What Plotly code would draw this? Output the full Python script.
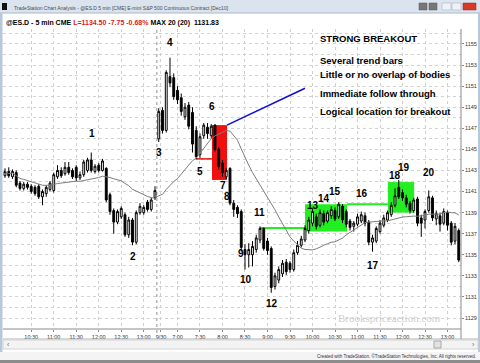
import plotly.graph_objects as go
import pandas as pd

# ---------------- data (5-min bars, two sessions) ----------------
opens = [
    1142.5, 1142.9, 1142.4, 1142.8, 1141.8, 1141.3, 1141.7, 1141.5, 1141.4, 1141.5,
    1140.5, 1140.8, 1141.2, 1141.1, 1142.4, 1143.0, 1142.7, 1143.3, 1143.0, 1143.3,
    1142.3, 1142.6, 1143.0, 1144.0, 1142.9, 1143.5, 1143.0, 1143.2, 1140.7, 1139.2,
    1138.1, 1138.6, 1138.8, 1136.9, 1138.3, 1136.2, 1139.0, 1139.0, 1140.0, 1139.3,
    1140.4,
    1146.0, 1148.7, 1146.8, 1151.9, 1151.8, 1150.6, 1149.9, 1148.1, 1149.2, 1148.5,
    1146.8, 1144.5, 1146.3, 1147.1, 1146.3, 1147.3, 1145.0, 1143.7, 1142.4, 1143.2,
    1139.9, 1139.5, 1139.1, 1135.5, 1135.0, 1135.0, 1135.5, 1136.4, 1137.5, 1136.3,
    1135.6, 1132.0, 1132.6, 1133.2, 1134.3, 1134.2, 1133.6, 1135.2, 1135.9, 1136.4,
    1137.3, 1138.0, 1138.6, 1137.8, 1138.9, 1138.2, 1138.7, 1139.2, 1138.6, 1139.6,
    1139.1, 1138.2, 1137.7, 1137.9, 1138.2, 1138.7, 1138.1, 1136.2, 1136.3, 1137.2,
    1137.8, 1138.3, 1138.8, 1139.7, 1141.4, 1140.9, 1140.4, 1139.9, 1139.2, 1140.3,
    1138.5, 1138.3, 1139.2, 1140.4, 1138.4, 1138.7, 1138.0, 1139.0, 1138.0, 1136.3,
    1137.3,
]
highs = [
    1143.2, 1143.3, 1143.1, 1143.0, 1142.0, 1141.9, 1141.9, 1141.7, 1141.6, 1141.7,
    1141.2, 1141.6, 1142.0, 1142.8, 1143.5, 1143.3, 1143.8, 1143.8, 1143.2, 1143.5,
    1142.9, 1144.0, 1144.2, 1144.7, 1143.6, 1143.7, 1144.1, 1143.3, 1140.9, 1139.4,
    1139.3, 1139.6, 1139.0, 1138.6, 1138.5, 1139.2, 1139.9, 1139.7, 1140.2, 1140.4,
    1141.5,
    1148.9, 1149.0, 1152.5, 1153.7, 1152.2, 1151.0, 1150.3, 1149.4, 1149.5, 1149.0,
    1147.2, 1146.5, 1147.5, 1147.5, 1147.4, 1147.4, 1145.2, 1144.0, 1143.2, 1143.3,
    1140.2, 1139.7, 1139.3, 1136.0, 1136.1, 1136.3, 1136.9, 1137.7, 1137.6, 1136.6,
    1135.8, 1133.3, 1133.9, 1134.5, 1134.6, 1134.4, 1135.5, 1136.3, 1136.8, 1137.8,
    1138.6, 1139.4, 1138.9, 1139.3, 1139.2, 1139.2, 1139.6, 1139.5, 1140.0, 1139.8,
    1139.3, 1138.4, 1138.2, 1138.9, 1139.1, 1139.0, 1138.3, 1136.9, 1137.7, 1138.3,
    1138.8, 1139.2, 1140.0, 1141.3, 1142.1, 1141.2, 1140.7, 1140.1, 1140.4, 1140.5,
    1138.8, 1139.3, 1141.1, 1140.6, 1139.2, 1139.0, 1139.4, 1139.2, 1138.2, 1138.0,
    1137.5,
]
lows = [
    1142.3, 1142.3, 1142.2, 1141.4, 1141.1, 1141.1, 1141.2, 1140.8, 1140.6, 1140.3,
    1139.7, 1140.5, 1141.0, 1140.9, 1142.2, 1142.3, 1142.5, 1142.6, 1142.2, 1142.0,
    1142.1, 1142.4, 1142.8, 1142.8, 1142.7, 1142.8, 1142.9, 1140.0, 1138.8, 1137.0,
    1137.9, 1138.4, 1136.7, 1136.6, 1135.9, 1136.0, 1138.8, 1138.8, 1139.1, 1139.1,
    1140.2,
    1145.7, 1146.5, 1146.6, 1150.9, 1149.7, 1149.3, 1148.2, 1147.8, 1146.9, 1144.7,
    1144.1, 1144.2, 1146.0, 1146.0, 1146.0, 1144.8, 1143.1, 1142.4, 1142.2, 1139.7,
    1138.6, 1138.5, 1135.3, 1133.6, 1133.8, 1133.9, 1135.2, 1136.1, 1135.4, 1135.0,
    1131.4, 1131.7, 1132.3, 1132.9, 1133.1, 1133.3, 1133.4, 1135.0, 1135.7, 1136.2,
    1137.0, 1137.7, 1137.4, 1137.6, 1137.8, 1138.0, 1138.4, 1138.2, 1138.4, 1138.0,
    1137.6, 1137.3, 1137.2, 1137.7, 1138.0, 1137.7, 1135.9, 1135.3, 1136.1, 1137.0,
    1137.6, 1138.1, 1138.6, 1139.5, 1140.3, 1140.1, 1139.5, 1138.9, 1139.0, 1137.7,
    1136.7, 1137.5, 1139.0, 1138.2, 1137.8, 1137.2, 1137.8, 1137.3, 1135.9, 1136.0,
    1134.3,
]
closes = [
    1142.9, 1142.5, 1142.9, 1141.6, 1141.3, 1141.7, 1141.4, 1141.0, 1140.8, 1140.5,
    1141.0, 1141.4, 1141.8, 1142.6, 1143.0, 1142.5, 1143.3, 1142.8, 1142.4, 1142.3,
    1142.6, 1143.8, 1144.0, 1143.0, 1143.4, 1143.0, 1143.9, 1140.2, 1139.1, 1138.1,
    1139.1, 1139.4, 1136.9, 1138.3, 1136.2, 1139.0, 1139.6, 1139.5, 1139.3, 1140.2,
    1141.1,
    1148.6, 1146.8, 1152.3, 1151.3, 1150.0, 1149.7, 1148.6, 1149.0, 1147.2, 1145.5,
    1144.3, 1146.2, 1147.3, 1146.5, 1147.2, 1145.0, 1143.4, 1142.8, 1143.0, 1139.9,
    1139.3, 1138.9, 1135.7, 1135.0, 1135.5, 1135.8, 1136.6, 1137.5, 1135.6, 1135.4,
    1131.9, 1133.0, 1133.6, 1134.2, 1133.4, 1133.6, 1135.2, 1135.9, 1136.5, 1137.5,
    1138.3, 1139.1, 1137.7, 1139.0, 1138.1, 1139.0, 1139.3, 1138.4, 1139.8, 1138.3,
    1137.9, 1137.6, 1138.0, 1138.6, 1138.8, 1138.0, 1136.2, 1136.6, 1137.5, 1138.0,
    1138.5, 1139.0, 1139.7, 1140.6, 1140.5, 1140.4, 1139.8, 1139.2, 1140.2, 1138.0,
    1138.0, 1139.1, 1140.5, 1138.5, 1138.9, 1137.9, 1139.1, 1137.8, 1136.2, 1137.7,
    1134.5,
]
bar_index = list(range(len(closes)))
day1_last, day2_first = 40, 41

tick_index = [7, 13, 19, 25, 31, 37, 41.6, 46, 52, 58, 64, 70, 76, 82, 88, 94, 100, 106, 112, 118]
tick_labels = ["10:30", "11:00", "11:30", "12:00", "12:30", "13:00", "9/30", "7:00", "7:30",
               "8:00", "8:30", "9:00", "9:30", "10:00", "10:30", "11:00", "11:30", "12:00",
               "12:30", "13:00"]
price_ticks = list(range(1129, 1156, 2))

# swing-point labels: (text, bar position, price)
point_labels = ["1", "2", "3", "4", "5", "6", "7", "8", "9", "10",
                "11", "12", "13", "14", "15", "16", "17", "18", "19", "20"]
point_x = [23.2, 34.1, 41.1, 44.0, 52.0, 55.2, 58.1, 59.2, 63.0, 64.3,
           68.0, 71.2, 82.1, 85.1, 88.0, 95.2, 98.1, 104.0, 106.3, 113.1]
point_y = [1146.5, 1134.8, 1144.7, 1155.1, 1142.9, 1149.1, 1141.6, 1140.5, 1135.1, 1132.7,
           1139.0, 1130.4, 1139.7, 1140.3, 1141.0, 1140.8, 1134.0, 1142.5, 1143.3, 1142.8]

notes = ["STRONG BREAKOUT", "Several trend bars", "Little or no overlap of bodies",
         "Immediate follow through", "Logical location for breakout"]

ma_length = 20
ma = pd.Series(closes).rolling(ma_length, min_periods=1).mean()

# ---------------- figure ----------------
W, H = 480, 363
def px(x):
    return x / W
def py(y):
    return 1 - y / H

SANS = "Liberation Sans, Arial, sans-serif"

fig = go.Figure()
fig.add_trace(go.Candlestick(
    x=bar_index, open=opens, high=highs, low=lows, close=closes,
    increasing=dict(fillcolor="white", line=dict(color="black", width=1)),
    decreasing=dict(fillcolor="black", line=dict(color="black", width=1)),
    whiskerwidth=0, showlegend=False, hoverinfo="skip"))
fig.add_trace(go.Scatter(x=bar_index, y=ma, mode="lines",
                         line=dict(color="#7c7c7c", width=1),
                         showlegend=False, hoverinfo="skip"))

shapes = []
def rect(x0, x1, y0, y1, color):
    shapes.append(dict(type="rect", xref="x", yref="y", x0=x0, x1=x1, y0=y0, y1=y1,
                       fillcolor=color, line=dict(width=0), layer="between"))
def hline(x0, x1, y, color, w):
    shapes.append(dict(type="line", xref="x", yref="y", x0=x0, x1=x1, y0=y, y1=y,
                       line=dict(color=color, width=w), layer="between"))

rect(55.2, 59.2, 1142.1, 1147.3, "#f01010")
hline(50.9, 55.2, 1144.1, "#e81010", 1.5)
rect(80.0, 91.2, 1137.2, 1139.8, "#22ee22")
rect(102.1, 109.1, 1139.0, 1141.9, "#22ee22")
hline(68.0, 80.0, 1137.55, "#22ee22", 2)
hline(91.2, 102.1, 1139.8, "#22ee22", 2)
shapes.append(dict(type="line", xref="x", yref="y", x0=59.2, y0=1147.3, x1=80.0, y1=1150.8,
                   line=dict(color="#1010d0", width=1.6)))
sep = (day1_last + day2_first) / 2
shapes.append(dict(type="line", xref="x", yref="paper", x0=sep, x1=sep, y0=py(333), y1=py(29),
                   line=dict(color="#909090", width=1, dash="dot"), layer="between"))

# window chrome
shapes += [
    dict(type="rect", xref="paper", yref="paper", x0=0, x1=1, y0=py(13), y1=1,
         fillcolor="#dbe4ee", line=dict(width=0)),
    dict(type="line", xref="paper", yref="paper", x0=0, x1=1, y0=py(13), y1=py(13),
         line=dict(color="#a9b8c8", width=1)),
    dict(type="rect", xref="paper", yref="paper", x0=px(2), x1=px(7), y0=py(10), y1=py(3),
         fillcolor="#111111", line=dict(width=0)),
    dict(type="rect", xref="paper", yref="paper", x0=px(419), x1=px(427), y0=py(10), y1=py(3),
         fillcolor="#777777", line=dict(color="#555", width=0.5)),
    dict(type="rect", xref="paper", yref="paper", x0=px(429), x1=px(437), y0=py(10), y1=py(3),
         fillcolor="#777777", line=dict(color="#555", width=0.5)),
    dict(type="rect", xref="paper", yref="paper", x0=px(442), x1=px(451), y0=py(10), y1=py(3),
         fillcolor="#eef2f6", line=dict(color="#9aa8b8", width=0.5)),
    dict(type="rect", xref="paper", yref="paper", x0=px(452), x1=px(461), y0=py(10), y1=py(3),
         fillcolor="#eef2f6", line=dict(color="#9aa8b8", width=0.5)),
    dict(type="rect", xref="paper", yref="paper", x0=px(463), x1=px(476), y0=py(10), y1=py(3),
         fillcolor="#d83a2a", line=dict(color="#a02010", width=0.5)),
    dict(type="rect", xref="paper", yref="paper", x0=0, x1=px(2.5), y0=py(352), y1=py(13),
         fillcolor="#b8c8da", line=dict(width=0)),
    dict(type="rect", xref="paper", yref="paper", x0=px(478), x1=1, y0=py(352), y1=py(13),
         fillcolor="#b8c8da", line=dict(width=0)),
    dict(type="line", xref="paper", yref="paper", x0=px(3), x1=px(461), y0=py(329), y1=py(329),
         line=dict(color="#8a8a8a", width=1)),
    dict(type="line", xref="paper", yref="paper", x0=px(461), x1=px(461), y0=py(339), y1=py(29),
         line=dict(color="#8a8a8a", width=1)),
    dict(type="line", xref="paper", yref="paper", x0=px(3), x1=px(478), y0=py(339), y1=py(339),
         line=dict(color="#b0b0b0", width=1)),
    dict(type="rect", xref="paper", yref="paper", x0=px(3), x1=px(478), y0=py(349), y1=py(340),
         fillcolor="#f3f3f3", line=dict(color="#d4d4d4", width=1)),
    dict(type="rect", xref="paper", yref="paper", x0=px(434), x1=px(441), y0=py(348), y1=py(341),
         fillcolor="#e2e2e2", line=dict(color="#a8a8a8", width=1)),
    dict(type="rect", xref="paper", yref="paper", x0=0, x1=1, y0=py(360), y1=py(352),
         fillcolor="#f4f4f4", line=dict(width=0)),
    dict(type="rect", xref="paper", yref="paper", x0=0, x1=1, y0=0, y1=py(360),
         fillcolor="#8c8c8c", line=dict(width=0)),
]

annotations = []
for t, xi, yi in zip(point_labels, point_x, point_y):
    annotations.append(dict(x=xi, y=yi, xref="x", yref="y", text="<b>%s</b>" % t, showarrow=False,
                            font=dict(family=SANS, size=10, color="#000000")))
note_y = [39, 60, 75, 94, 111]
for t, yy in zip(notes, note_y):
    annotations.append(dict(x=px(318), y=py(yy), xref="paper", yref="paper", text="<b>%s</b>" % t,
                            showarrow=False, xanchor="left", yanchor="middle",
                            font=dict(family=SANS, size=9.5, color="#000000")))
annotations += [
    dict(x=px(12), y=py(7.5), xref="paper", yref="paper", xanchor="left", yanchor="middle",
         showarrow=False, text="TradeStation Chart Analysis - @ES.D 5 min [CME] E-mini S&P 500 Continuous Contract [Dec10]",
         font=dict(family=SANS, size=5, color="#4a4a4a")),
    dict(x=px(4), y=py(22.5), xref="paper", yref="paper", xanchor="left", yanchor="middle",
         showarrow=False,
         text="<b>@ES.D - 5 min CME <span style='color:#e01818'>L=1134.50 -7.75 -0.68%</span> MAX 20 (20)  1131.83</b>",
         font=dict(family=SANS, size=7, color="#000000")),
    dict(x=px(389), y=py(318), xref="paper", yref="paper", xanchor="center", yanchor="middle",
         showarrow=False, text="Brookspriceaction.com",
         font=dict(family="Liberation Serif, Times New Roman, serif", size=11, color="#cfcfcf")),
    dict(x=px(8), y=py(344.5), xref="paper", yref="paper", xanchor="center", yanchor="middle",
         showarrow=False, text="‹", font=dict(family=SANS, size=7, color="#666")),
    dict(x=px(473), y=py(344.5), xref="paper", yref="paper", xanchor="center", yanchor="middle",
         showarrow=False, text="›", font=dict(family=SANS, size=7, color="#666")),
    dict(x=px(478), y=py(356), xref="paper", yref="paper", xanchor="right", yanchor="middle",
         showarrow=False,
         text="Created with TradeStation. ©TradeStation Technologies, Inc. All rights reserved.",
         font=dict(family=SANS, size=4.5, color="#333")),
]

x_lo, x_hi = -0.53, 121.6
y_lo, y_hi = 1127.96, 1156.42

fig.update_layout(
    width=W, height=H, margin=dict(l=0, r=0, t=0, b=0),
    paper_bgcolor="white", plot_bgcolor="white",
    shapes=shapes, annotations=annotations, showlegend=False,
    xaxis=dict(domain=[px(3), px(461)], range=[x_lo, x_hi], rangeslider=dict(visible=False),
               tickmode="array", tickvals=tick_index, ticktext=tick_labels,
               tickfont=dict(family=SANS, size=5.5, color="#333"),
               ticks="outside", ticklen=2, tickcolor="#888",
               showgrid=True, gridcolor="#cfcfcf", griddash="dot", gridwidth=1,
               zeroline=False, showline=False, fixedrange=True),
    yaxis=dict(domain=[py(329), py(29)], range=[y_lo, y_hi], side="right",
               tickmode="array", tickvals=price_ticks, ticktext=[str(v) for v in price_ticks],
               tickfont=dict(family=SANS, size=5.5, color="#333"),
               ticks="outside", ticklen=2, tickcolor="#888",
               showgrid=True, gridcolor="#d2d2d2", griddash="dot", gridwidth=1,
               minor=dict(dtick=1, tick0=1129, showgrid=True, gridcolor="#d2d2d2",
                          griddash="dot", ticks=""),
               zeroline=False, showline=False, fixedrange=True),
)

fig.write_html("out.html")
